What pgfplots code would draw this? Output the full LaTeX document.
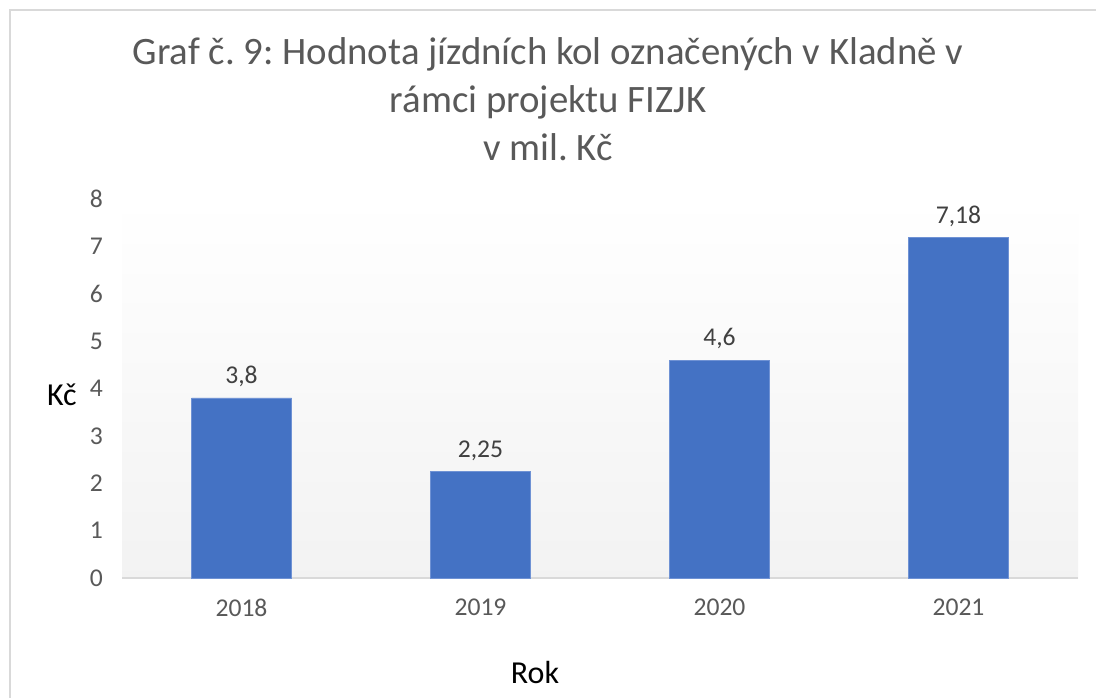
\documentclass[border=0pt]{standalone}
\usepackage{fontspec}
\setmainfont{Carlito}
\usepackage{pgfplots}
\pgfplotsset{compat=1.18}
\frenchspacing
\definecolor{barblue}{HTML}{4472C4}
\definecolor{baredge}{HTML}{6F92D4}
\definecolor{tickgray}{HTML}{595959}
\definecolor{lblgray}{HTML}{404040}
\definecolor{axgray}{HTML}{D9D9D9}
\definecolor{framegray}{HTML}{D9D9D9}
\begin{document}
\begin{tikzpicture}
\useasboundingbox (0pt,0pt) rectangle (548pt,348.5pt);
\fill[white] (0pt,0pt) rectangle (548pt,348.5pt);
\draw[framegray, line width=1pt] (5pt,343.5pt) rectangle (560pt,-10pt);
\begin{axis}[
  at={(61pt,59.5pt)}, anchor=south west,
  scale only axis, width=478pt, height=189.5pt,
  xmin=-0.5, xmax=3.5, ymin=0, ymax=8,
  enlargelimits=false,
  axis x line=bottom, axis y line=left,
  x axis line style={draw=axgray, line width=0.8pt, -},
  y axis line style={draw=none},
  major tick length=0pt,
  xtick={0,1,2,3},
  xticklabels={2018,2019,2020,2021},
  ytick={0,1,...,8},
  tick label style={font=\fontsize{12.8}{15}\selectfont, text=tickgray},
  x tick label style={yshift=-7pt},
  y tick label style={xshift=-6pt},
  /pgf/number format/assume math mode=true,
  axis background/.style={top color=white, bottom color=gray!10},
  title={Graf č. 9: Hodnota jízdních kol označených v Kladně v\\rámci projektu FIZJK\\v mil. Kč},
  title style={font=\fontsize{19.4}{24}\selectfont, text=tickgray, align=center,
    at={(axis description cs:0.4456,1.233)}, anchor=center},
  xlabel={Rok},
  xlabel style={font=\fontsize{16}{19}\selectfont, text=black,
    at={(axis description cs:0.432,-0.25)}, anchor=center},
  ylabel={Kč},
  ylabel style={font=\fontsize{16}{19}\selectfont, text=black, rotate=-90,
    at={(axis description cs:-0.063,0.483)}, anchor=center},
  nodes near coords,
  nodes near coords style={font=\fontsize{12.8}{15}\selectfont, text=lblgray, anchor=south, yshift=2pt,
    /pgf/number format/use comma, /pgf/number format/assume math mode=true},
]
\addplot[ybar, bar width=50pt, fill=barblue, draw=baredge, line width=0.4pt]
  coordinates {(0,3.8) (1,2.25) (2,4.6) (3,7.18)};
\end{axis}
\end{tikzpicture}
\end{document}
